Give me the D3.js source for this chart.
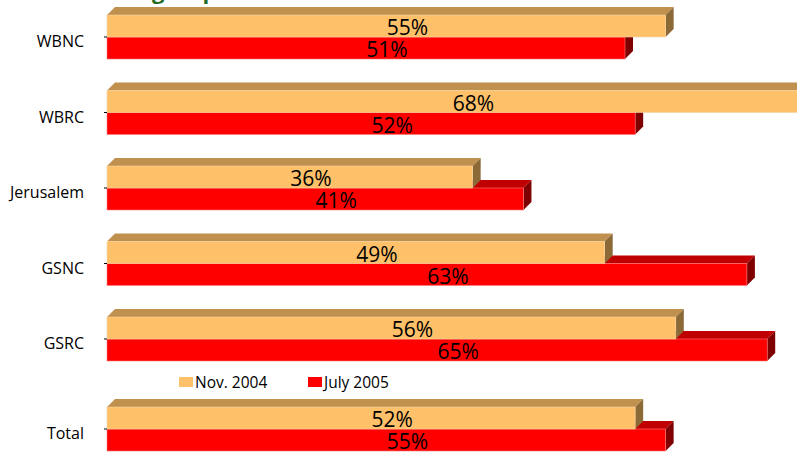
<!DOCTYPE html>
<html><head><meta charset="utf-8">
<script src="https://cdn.jsdelivr.net/npm/d3@7"></script>
<style>
html,body{margin:0;padding:0;background:#fff;overflow:hidden}
svg{display:block}
</style></head>
<body>
<svg id="c" width="797" height="454"></svg>
<script>
const categories = ["WBNC","WBRC","Jerusalem","GSNC","GSRC","Total"];
const nov2004 = [55,68,36,49,56,52];
const july2005 = [51,52,41,63,65,55];
const seriesNames = ["Nov. 2004","July 2005"];
const titleText = "group";

const svg = d3.select("#c");
const font = "'Open Sans', sans-serif";
const depth = 8, faceH = 22;
const x = d3.scaleLinear().domain([0,70]).range([107, 107 + 711]);
const y = d3.scaleBand().domain(categories.slice(0,5)).range([15, 15 + 5*75.5]).paddingInner(0).paddingOuter(0);
const rowTop = c => c === "Total" ? y.range()[1] + 14.5 : y(c);

const styles = [
  {front:"#FFC06A", top:"#C0904F", side:"#8C6A38", stroke:"#F5D4A0"},
  {front:"#FF0000", top:"#C00000", side:"#7E0000", stroke:"#FF7A7A"}
];

// title (mostly outside the viewport)
svg.append("text").attr("x",152).attr("y",-1).attr("font-family",font)
  .attr("font-weight","bold").attr("font-size",22).attr("fill","#236B23").text(titleText);

function bar(g, x0, x1, yt, st){
  g.append("path").attr("d",`M${x0},${yt}L${x0+depth},${yt-depth}L${x1+depth},${yt-depth}L${x1},${yt}Z`).attr("fill",st.top);
  g.append("path").attr("d",`M${x1},${yt}L${x1+depth},${yt-depth}L${x1+depth},${yt-depth+faceH}L${x1},${yt+faceH}Z`).attr("fill",st.side);
  g.append("rect").attr("x",x0).attr("y",yt).attr("width",x1-x0).attr("height",faceH)
    .attr("fill",st.front).attr("stroke",st.stroke).attr("stroke-width",0.6);
}

categories.forEach((c,i)=>{
  const t = rowTop(c);
  const g = svg.append("g");
  bar(g, x(0), x(july2005[i]), t+faceH, styles[1]);
  bar(g, x(0), x(nov2004[i]), t, styles[0]);
  [[nov2004[i], t],[july2005[i], t+faceH]].forEach(([v,yt])=>{
    g.append("text").attr("x",(x(0)+x(v))/2 + 21).attr("y",yt+faceH/2+1)
      .attr("text-anchor","middle").attr("dominant-baseline","central")
      .attr("font-family",font).attr("font-size",21).attr("fill","#000").text(v+"%");
  });
  svg.append("text").attr("x",84).attr("y",t+26).attr("text-anchor","end")
    .attr("dominant-baseline","central").attr("font-family",font).attr("font-size",16)
    .attr("fill","#000").text(c);
  svg.append("line").attr("x1",104).attr("x2",107).attr("y1",t+faceH).attr("y2",t+faceH)
    .attr("stroke","#000").attr("stroke-width",1);
});

const legendItems = [{x:179, name:seriesNames[0], col:styles[0].front},{x:308, name:seriesNames[1], col:styles[1].front}];
legendItems.forEach(l=>{
  svg.append("rect").attr("x",l.x).attr("y",377).attr("width",14).attr("height",10).attr("fill",l.col);
  svg.append("text").attr("x",l.x+16).attr("y",382).attr("dominant-baseline","central")
    .attr("font-family",font).attr("font-size",15.5).attr("fill","#000").text(l.name);
});
</script>
</body></html>
